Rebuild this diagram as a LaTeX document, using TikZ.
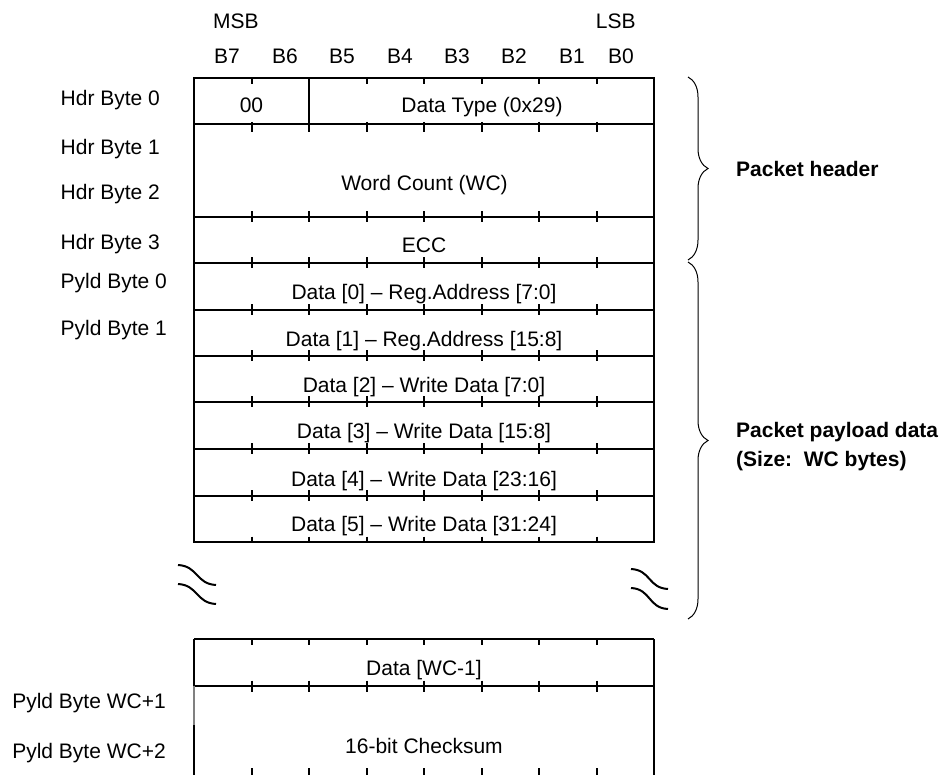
\documentclass[tikz,border=0pt]{standalone}
\usepackage{fontspec}
\setmainfont{Liberation Sans}
\usetikzlibrary{decorations.pathreplacing}
\begin{document}
\begin{tikzpicture}[x=1pt,y=-1pt,
  txt/.style={font=\fontsize{21}{25}\selectfont, inner sep=0pt, anchor=base},
  ltxt/.style={txt, anchor=base west},
  rtxt/.style={txt, anchor=base east},
  btxt/.style={txt, anchor=base west, font=\fontsize{21}{25}\selectfont\bfseries},
  frame/.style={line width=2.4pt},
  tickmark/.style={line width=2pt},
  brc/.style={decorate, decoration={brace, amplitude=20pt}, line width=1pt},
  brk/.style={line width=2pt}]
\useasboundingbox (0,0) rectangle (943,775);

% ---- column header labels
\node[txt] (msb) at (236,28.3) {MSB};
\node[txt] (lsb) at (615.7,28.3) {LSB};
\foreach \lab/\xx in {B7/227,B6/285,B5/342,B4/400,B3/457,B2/514,B1/572,B0/621}
  \node[txt] (\lab) at (\xx,63.3) {\lab};

% ---- upper table frame
\draw[frame] (194,78) rectangle (654,542);
\foreach \yy in {124,217,263,310,356,402,449,496}
  \draw[frame] (194,\yy) -- (654,\yy);
\draw[frame] (309,78) -- (309,124);

% ticks of upper table
\foreach \xx in {251.5,366.5,424,481.5,539,596.5}
  \draw[tickmark] (\xx,78) -- (\xx,84);
\foreach \xx in {251.5,309,366.5,424,481.5,539,596.5} {
  \draw[tickmark] (\xx,122) -- (\xx,132);
  \foreach \yy in {217,263,310,356,402,449,496}
    \draw[tickmark] (\xx,\yy-5.5) -- (\xx,\yy+5.5);
  \draw[tickmark] (\xx,536.5) -- (\xx,542);
}

% ---- lower table frame
\draw[frame] (194,639) -- (654,639);
\draw[frame] (194,686) -- (654,686);
\draw[frame] (654,639) -- (654,775);
\draw[frame] (194,639) -- (194,686);
\draw[frame, gray] (194,686) -- (194,725);
\draw[frame] (194,725) -- (194,775);
\foreach \xx in {251.5,309,366.5,424,481.5,539,596.5} {
  \draw[tickmark] (\xx,639) -- (\xx,645);
  \draw[tickmark] (\xx,680.5) -- (\xx,691.5);
  \draw[tickmark] (\xx,768) -- (\xx,775);
}

% ---- field texts
\node[txt] (f00) at (251.5,112.7) {00};
\node[txt] (fdt) at (482,112.7) {Data Type (0x29)};
\node[txt] (fwc) at (424.5,190.7) {Word Count (WC)};
\node[txt] (fecc) at (424,253) {ECC};
\node[txt] (fd0) at (424,300) {Data [0] – Reg.Address [7:0]};
\node[txt] (fd1) at (424,347) {Data [1] – Reg.Address [15:8]};
\node[txt] (fd2) at (424,392.5) {Data [2] – Write Data [7:0]};
\node[txt] (fd3) at (424,438.5) {Data [3] – Write Data [15:8]};
\node[txt] (fd4) at (424,486) {Data [4] – Write Data [23:16]};
\node[txt] (fd5) at (424,532) {Data [5] – Write Data [31:24]};
\node[txt] (fdl) at (424,675) {Data [WC-1]};
\node[txt] (fcs) at (424,753) {16-bit Checksum};

% ---- row labels
\node[ltxt] (h0) at (60.5,106) {Hdr Byte 0};
\node[ltxt] (h1) at (60.5,154.3) {Hdr Byte 1};
\node[ltxt] (h2) at (60.5,200) {Hdr Byte 2};
\node[ltxt] (h3) at (60.5,250) {Hdr Byte 3};
\node[ltxt] (p0) at (60.5,288.3) {Pyld Byte 0};
\node[ltxt] (p1) at (60.5,335.7) {Pyld Byte 1};
\node[rtxt] (pw1) at (166,708.3) {Pyld Byte WC+1};
\node[rtxt] (pw2) at (166,758.3) {Pyld Byte WC+2};

% ---- break marks
\draw[brk] (178,565) .. controls (198,566) and (196,584) .. (216,585);
\draw[brk] (178,584) .. controls (198,585) and (196,603) .. (216,604);
\draw[brk] (631,569) .. controls (651,570) and (648,588) .. (668,589);
\draw[brk] (631,588) .. controls (651,589) and (648,608) .. (668,609);

% ---- braces and their labels
\coordinate (hb1) at (688,77);
\coordinate (hb2) at (688,260);
\coordinate (pb1) at (688,262);
\coordinate (pb2) at (688,619);
\draw[brc] (hb1) -- (hb2);
\draw[brc] (pb1) -- (pb2);
\node[btxt] (lhdr) at (736,177) {Packet header};
\node[btxt] (lpay1) at (736,438) {Packet payload data};
\node[btxt] (lpay2) at (736,467) {(Size:~~WC bytes)};
\end{tikzpicture}
\end{document}
